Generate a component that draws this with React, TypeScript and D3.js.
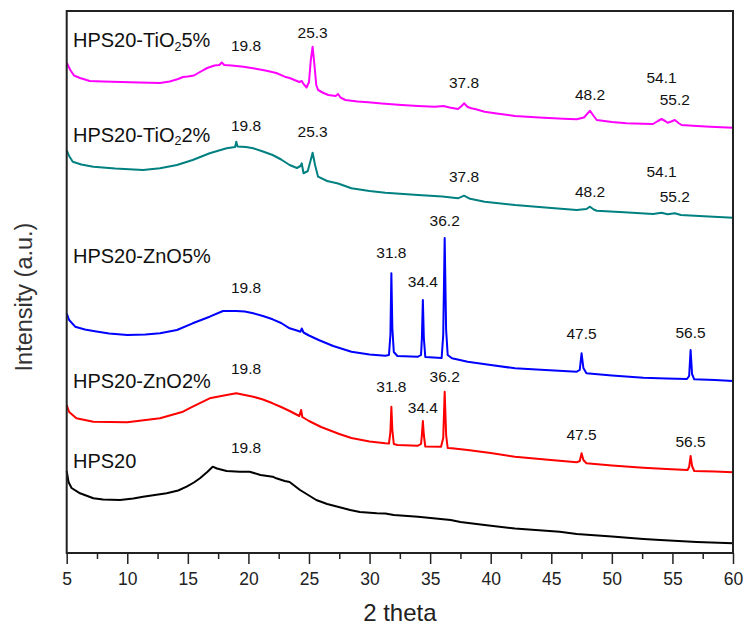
import React, { useEffect, useRef } from 'react';
import * as d3 from 'd3';

type Pt = [number, number];

// XRD patterns (2θ in degrees, stacked intensity in a.u.)
const hpsTiO2_5: Pt[] = [
  [5.0, 490.3], [5.3, 483], [5.6, 477.5], [6.1, 475], [6.9, 472], [8.0, 471.5], [9.5, 471],
  [11.0, 470.5], [12.7, 470], [13.5, 471.5], [14.2, 474], [14.6, 476], [15.0, 476.5], [15.5, 477.5],
  [16.0, 481], [16.6, 485], [17.2, 487.5], [17.6, 488], [17.8, 490.5], [18.0, 488], [18.6, 487.5],
  [19.6, 486.3], [20.5, 484.5], [21.5, 482.3], [22.3, 480], [23.0, 476.3], [23.4, 475], [23.8, 473],
  [24.2, 471], [24.4, 472], [24.55, 469], [24.8, 465.5], [25.0, 471], [25.15, 493], [25.3, 506.3],
  [25.45, 488], [25.6, 468], [25.75, 463], [26.2, 460], [26.6, 458], [27.2, 457], [27.4, 459],
  [27.6, 455.5], [28.0, 453], [29.0, 451.5], [29.9, 450.7], [31.0, 449.5], [32.65, 448], [34.0, 447],
  [35.4, 446.3], [36.1, 447], [36.6, 445.5], [37.3, 444], [37.6, 447], [37.8, 449.7], [38.1, 446],
  [38.4, 444.7], [38.7, 444], [39.5, 441.3], [40.5, 439.5], [42.0, 437], [44.0, 435.5], [46.0, 434.3],
  [47.1, 433.7], [47.7, 435.5], [48.2, 442.3], [48.5, 437], [48.75, 433], [50.0, 431], [51.2, 429.7],
  [52.5, 429.3], [53.4, 429], [53.8, 432], [54.1, 434], [54.4, 432], [54.6, 430.3], [54.9, 431.5],
  [55.2, 433], [55.5, 430], [55.75, 428], [57.0, 427], [58.1, 426.3], [60.0, 425.3],
];

const hpsTiO2_2: Pt[] = [
  [5.0, 403], [5.2, 397], [5.5, 391.3], [6.2, 388.5], [7.2, 386.3], [9.0, 384.5], [11.3, 383],
  [12.7, 384.7], [14.1, 388], [15.4, 393], [16.8, 399.7], [18.2, 404.7], [18.9, 406], [19.0, 411.3],
  [19.1, 406.5], [19.8, 406], [20.4, 404.7], [21.2, 401.5], [22.0, 398], [22.7, 393.5], [23.4, 388],
  [24.0, 385], [24.3, 387], [24.4, 389.7], [24.55, 379.7], [24.9, 382], [25.1, 391], [25.3, 400.3],
  [25.5, 388], [25.75, 376.3], [26.5, 372], [27.4, 369.5], [28.5, 364.7], [30.0, 362], [31.3, 360.3],
  [34.0, 358], [36.0, 356.5], [37.3, 354.7], [37.8, 357.3], [38.3, 354.2], [39.5, 351.3], [42.0, 348],
  [44.5, 345.5], [47.1, 343], [47.9, 344], [48.2, 346.3], [48.5, 343.5], [48.75, 342.3], [51.0, 340.7],
  [53.4, 339], [54.1, 340.3], [54.6, 338.7], [55.2, 339.7], [55.7, 338], [58.0, 336.5], [60.0, 335.3],
];

const hpsZnO_5: Pt[] = [
  [5.0, 239.7], [5.2, 233], [5.7, 226.3], [6.5, 223.5], [7.2, 222], [8.5, 219.5], [10.0, 218],
  [11.5, 218.5], [12.7, 219.7], [14.1, 223], [15.4, 229.7], [16.8, 236.3], [17.9, 242], [19.0, 242],
  [19.7, 241.5], [20.4, 239.7], [21.2, 237], [22.0, 233.7], [22.7, 230], [23.4, 224.7], [24.0, 222.5],
  [24.3, 221.3], [24.4, 224.5], [24.55, 220.5], [25.0, 217.5], [25.8, 213], [27.0, 207], [28.5, 201.3],
  [30.0, 198.5], [31.3, 197.3], [31.6, 198], [31.72, 218], [31.8, 279.7], [31.88, 225], [32.0, 201],
  [32.3, 197], [34.0, 196.3], [34.25, 198], [34.32, 215], [34.4, 253], [34.48, 215], [34.6, 196],
  [35.95, 195], [36.08, 218], [36.2, 315], [36.32, 223], [36.45, 198], [36.8, 194.7], [38.1, 191.3],
  [40.0, 188], [42.0, 184.7], [44.5, 183], [47.1, 181.3], [47.35, 183], [47.5, 199.7], [47.65, 185],
  [47.9, 179.7], [50.0, 177.5], [52.6, 175.3], [54.5, 174.5], [56.2, 174], [56.38, 177], [56.5, 203],
  [56.62, 179], [56.8, 173.7], [58.5, 173], [60.0, 172],
];

const hpsZnO_2: Pt[] = [
  [5.0, 148], [5.2, 141], [5.8, 134.7], [7.2, 131.3], [10.0, 130.7], [12.7, 134.7], [14.6, 141.3],
  [15.4, 146.3], [16.8, 154.7], [18.2, 158], [19.0, 159.7], [20.4, 156.3], [21.2, 153.5], [22.0, 149.7],
  [22.7, 146], [23.4, 142], [24.2, 137], [24.35, 143], [24.45, 136], [25.0, 132], [26.0, 126],
  [27.5, 119], [28.5, 115], [30.0, 111.5], [31.3, 109.7], [31.6, 109.5], [31.72, 121], [31.8, 146.3],
  [31.88, 123], [32.0, 109], [32.3, 108], [34.0, 107.3], [34.25, 109], [34.32, 118], [34.4, 132],
  [34.48, 118], [34.6, 106.5], [35.9, 106.3], [36.08, 115], [36.2, 161.3], [36.32, 118], [36.45, 105],
  [36.8, 104.7], [38.1, 103], [40.0, 100], [42.0, 96.3], [44.5, 93.5], [47.1, 90.7], [47.35, 92],
  [47.5, 99.7], [47.65, 93], [47.9, 89.7], [50.0, 87.5], [52.6, 85.3], [54.5, 84], [56.25, 83],
  [56.38, 86], [56.5, 97], [56.62, 87], [56.8, 82], [58.5, 81.5], [60.0, 80.7],
];

const hps20: Pt[] = [
  [5.0, 82], [5.15, 71], [5.4, 65], [6.1, 59.7], [7.2, 54.7], [8.0, 53.5], [9.4, 53], [10.5, 54.5],
  [11.3, 56.3], [13.25, 59.7], [14.2, 62.5], [14.9, 66.3], [15.5, 70.5], [16.0, 74.7], [16.6, 81],
  [17.05, 86.3], [17.4, 84.5], [18.2, 82], [19.3, 81.3], [20.1, 81.3], [21.0, 78], [22.0, 76.3],
  [22.3, 74.7], [23.0, 72], [23.4, 71], [24.26, 63], [25.0, 57.5], [25.6, 53], [26.5, 49], [28.4, 43],
  [29.2, 41], [30.6, 39.7], [31.3, 39.5], [32.0, 38], [34.0, 36.3], [36.7, 33], [37.5, 31], [39.5, 28],
  [42.0, 24.5], [45.7, 21.3], [47.1, 19], [50.0, 16.5], [52.6, 14], [54.0, 13], [57.0, 11], [60.0, 9.7],
];

// Sample names: [before subscript, subscript, after subscript]
const sampleNames: [string, string, string][] = [
  ['HPS20-TiO', '2', '5%'],
  ['HPS20-TiO', '2', '2%'],
  ['HPS20-ZnO5%', '', ''],
  ['HPS20-ZnO2%', '', ''],
  ['HPS20', '', ''],
];
const sampleColors = ['#ff00ff', '#008080', '#0000ff', '#ff0000', '#000000'];
const sampleData = [hpsTiO2_5, hpsTiO2_2, hpsZnO_5, hpsZnO_2, hps20];

// Indexed 2θ peaks for each pattern
const peaksTiO2_5 = [19.8, 25.3, 37.8, 48.2, 54.1, 55.2];
const peaksTiO2_2 = [19.8, 25.3, 37.8, 48.2, 54.1, 55.2];
const peaksZnO_5 = [19.8, 31.8, 34.4, 36.2, 47.5, 56.5];
const peaksZnO_2 = [19.8, 31.8, 34.4, 36.2, 47.5, 56.5];
const peaksHPS20 = [19.8];
const samplePeaks = [peaksTiO2_5, peaksTiO2_2, peaksZnO_5, peaksZnO_2, peaksHPS20];

const xTicks = [5, 10, 15, 20, 25, 30, 35, 40, 45, 50, 55, 60];

// Layout
const W = 743;
const H = 626;
const M = { left: 66.7, right: 733, top: 11, bottom: 553 };
const NAME_X = 73;
const NAME_BASELINE = [47, 141.7, 262.7, 388.3, 468.3];
const PEAK_LABEL_BASELINE = [
  [50.7, 38.3, 88.3, 100, 82.7, 105],
  [131, 136.7, 182.3, 196.7, 176.7, 201.7],
  [293.3, 258.3, 287.3, 226, 339.3, 338.3],
  [374, 391.7, 413.3, 381.7, 440, 446.7],
  [452.7],
];
const FONT = "'Liberation Sans', Arial, sans-serif";

export default function App() {
  const axisRef = useRef<SVGGElement>(null);

  const x = d3.scaleLinear().domain([5, 60]).range([M.left, M.right]);
  const y = d3.scaleLinear().domain([0, M.bottom - M.top]).range([M.bottom, M.top]);
  const line = d3
    .line<Pt>()
    .x((d) => x(d[0]))
    .y((d) => y(d[1]));

  useEffect(() => {
    if (!axisRef.current) return;
    const g = d3.select(axisRef.current);
    g.selectAll('*').remove();

    const minor = d3.range(7.5, 60, 5);
    g.append('g')
      .call(d3.axisBottom(x).tickValues(minor).tickSize(6).tickSizeOuter(0).tickFormat(() => ''))
      .call((s) => s.select('.domain').remove())
      .call((s) => s.selectAll('line').attr('stroke', '#222').attr('stroke-width', 1.5));

    g.append('g')
      .call(
        d3
          .axisBottom(x)
          .tickValues(xTicks)
          .tickSize(11)
          .tickSizeOuter(0)
          .tickPadding(8.5)
          .tickFormat(d3.format('d'))
      )
      .call((s) => s.select('.domain').remove())
      .call((s) => s.selectAll('line').attr('stroke', '#222').attr('stroke-width', 1.5))
      .call((s) =>
        s
          .selectAll('text')
          .attr('fill', '#222')
          .style('font-family', FONT)
          .style('font-size', '17.5px')
      );
  }, []);

  return (
    <svg
      width={W}
      height={H}
      style={{ position: 'absolute', left: 0, top: 0, background: '#fff' }}
    >
      <rect x={0} y={0} width={W} height={H} fill="#fff" />

      {sampleData.map((d, i) => (
        <path
          key={i}
          d={line(d) ?? ''}
          fill="none"
          stroke={sampleColors[i]}
          strokeWidth={2}
          strokeLinejoin="round"
        />
      ))}

      <g transform={`translate(0,${M.bottom})`} ref={axisRef} />

      <rect
        x={M.left}
        y={M.top}
        width={M.right - M.left}
        height={M.bottom - M.top}
        fill="none"
        stroke="#222"
        strokeWidth={2}
      />

      {sampleNames.map((n, i) => (
        <text key={i} x={NAME_X} y={NAME_BASELINE[i]} fontFamily={FONT} fontSize={20} fill="#111">
          {n[0]}
          {n[1] && (
            <tspan fontSize={12.5} dy={3.5}>
              {n[1]}
            </tspan>
          )}
          {n[2] && (
            <tspan fontSize={20} dy={-3.5}>
              {n[2]}
            </tspan>
          )}
        </text>
      ))}

      {samplePeaks.map((peaks, i) =>
        peaks.map((p, j) => (
          <text
            key={`${i}-${j}`}
            x={x(p)}
            y={PEAK_LABEL_BASELINE[i][j]}
            textAnchor="middle"
            fontFamily={FONT}
            fontSize={15.5}
            fill="#111"
          >
            {p.toFixed(1)}
          </text>
        ))
      )}

      <text
        x={(M.left + M.right) / 2}
        y={621}
        textAnchor="middle"
        fontFamily={FONT}
        fontSize={24}
        fill="#222"
      >
        2 theta
      </text>
      <text
        transform={`translate(32,297) rotate(-90)`}
        textAnchor="middle"
        fontFamily={FONT}
        fontSize={23.5}
        fill="#333"
      >
        Intensity (a.u.)
      </text>
    </svg>
  );
}
